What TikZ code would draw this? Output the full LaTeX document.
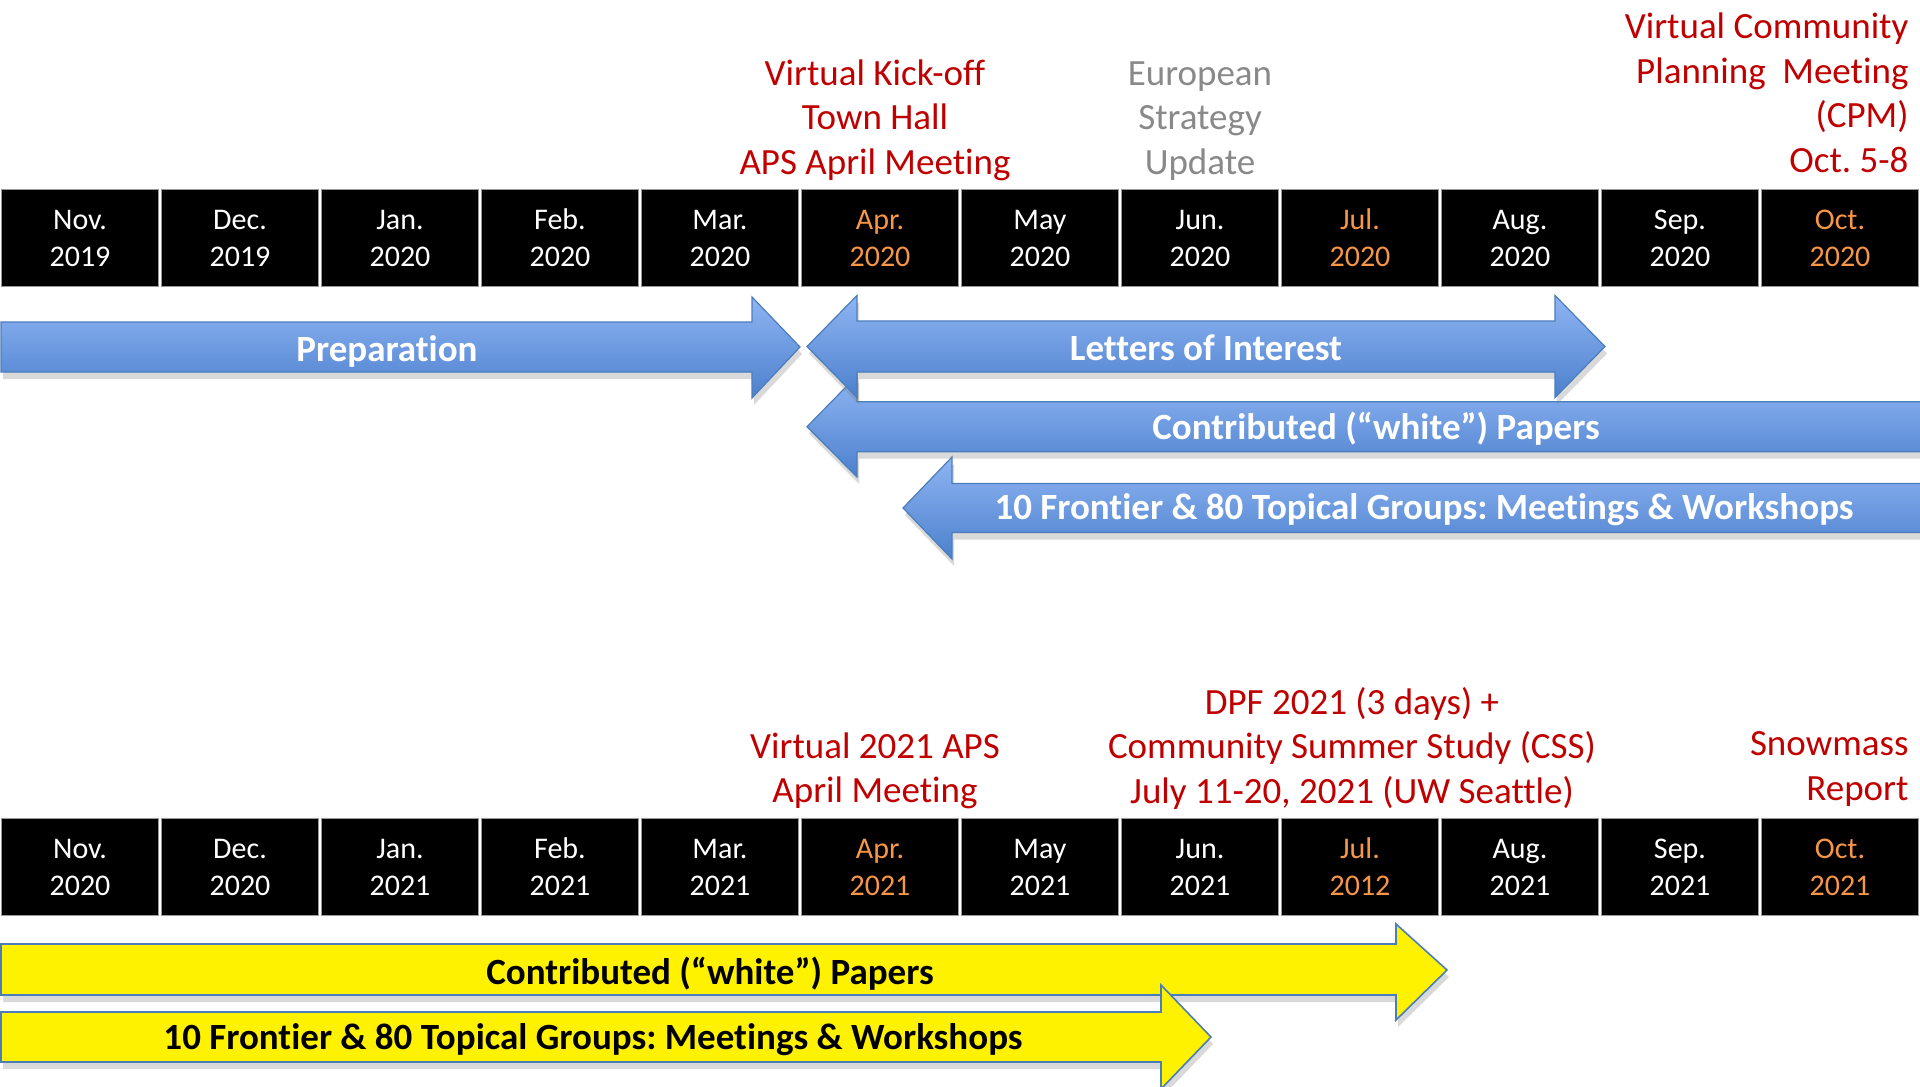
\documentclass[tikz,border=0pt]{standalone}
\usepackage{fontspec}
\setmainfont[Ligatures=NoCommon]{Carlito}
\usetikzlibrary{shadows}
\definecolor{darkred}{RGB}{192,0,0}
\definecolor{midgray}{RGB}{137,137,137}
\definecolor{monthorange}{RGB}{247,150,70}
\definecolor{arrowtop}{RGB}{143,181,243}
\definecolor{arrowbot}{RGB}{76,128,205}
\definecolor{arrowline}{RGB}{74,126,187}

\begin{document}
\frenchspacing
\begin{tikzpicture}[x=1pt,y=-1pt,
   month/.style={fill=black,draw=gray!80,line width=1pt,minimum width=157pt,minimum height=97pt,
      inner sep=0pt,align=center,text=white,font=\fontsize{30}{37}\selectfont},
   hotmonth/.style={month,text=monthorange},
   event/.style={align=center,text=darkred,font=\fontsize{37}{44.5}\selectfont},
   bluearrow/.style={top color=arrowtop,bottom color=arrowbot,draw=arrowline,line width=1.2pt,
      drop shadow={shadow xshift=2pt,shadow yshift=-7pt,opacity=0.3}},
   yellowarrow/.style={fill=yellow,draw=arrowline,line width=1.6pt,
      drop shadow={shadow xshift=2pt,shadow yshift=-7pt,opacity=0.3}},
   barlabel/.style={text=white,font=\bfseries\fontsize{37}{40}\selectfont},
   ]
   \useasboundingbox (0,0) rectangle (1920,1087);
   \clip (0,0) rectangle (1920,1087);

   % first year
   \node[month]    (a1)  at (80,238)   {Nov.\\2019};
   \node[month]    (a2)  at (240,238)  {Dec.\\2019};
   \node[month]    (a3)  at (400,238)  {Jan.\\2020};
   \node[month]    (a4)  at (560,238)  {Feb.\\2020};
   \node[month]    (a5)  at (720,238)  {Mar.\\2020};
   \node[hotmonth] (a6)  at (880,238)  {Apr.\\2020};
   \node[month]    (a7)  at (1040,238) {May\\2020};
   \node[month]    (a8)  at (1200,238) {Jun.\\2020};
   \node[hotmonth] (a9)  at (1360,238) {Jul.\\2020};
   \node[month]    (a10) at (1520,238) {Aug.\\2020};
   \node[month]    (a11) at (1680,238) {Sep.\\2020};
   \node[hotmonth] (a12) at (1840,238) {Oct.\\2020};

   \node[event] (kickoff) at (875,120) {Virtual Kick-off\\Town Hall\\APS April Meeting};
   \node[event,text=midgray] (esu) at (1200,121) {European\\Strategy\\Update};
   \node[event,align=right,anchor=east] (cpm) at (1912,93)
      {Virtual Community\\Planning~~Meeting\\(CPM)\\Oct. 5-8};

   \path[bluearrow] (903,508) -- (952,457) -- (952,483.5) -- (1930,483.5) -- (1930,532.5)
      -- (952,532.5) -- (952,559) -- cycle;
   \path[bluearrow] (807,426.7) -- (857,375.7) -- (857,401.7) -- (1930,401.7) -- (1930,451.7)
      -- (857,451.7) -- (857,477) -- cycle;
   \path[bluearrow] (807,346.5) -- (857,295.5) -- (857,321) -- (1555,321) -- (1555,295.5)
      -- (1605,346.5) -- (1555,397.5) -- (1555,372) -- (857,372) -- (857,397.5) -- cycle;
   \path[bluearrow] (1,322) -- (752,322) -- (752,297) -- (800,347) -- (752,398) -- (752,372)
      -- (1,372) -- cycle;

   \node[barlabel] (prep) at (387,351)  {Preparation};
   \node[barlabel] (loi)  at (1206,348) {Letters of Interest};
   \node[barlabel] (cwp)  at (1376,429) {Contributed (“white”) Papers};
   \node[barlabel] (fgw)  at (1424,510) {10 Frontier \& 80 Topical Groups: Meetings \& Workshops};

   % second year
   \node[month]    (b1)  at (80,867)   {Nov.\\2020};
   \node[month]    (b2)  at (240,867)  {Dec.\\2020};
   \node[month]    (b3)  at (400,867)  {Jan.\\2021};
   \node[month]    (b4)  at (560,867)  {Feb.\\2021};
   \node[month]    (b5)  at (720,867)  {Mar.\\2021};
   \node[hotmonth] (b6)  at (880,867)  {Apr.\\2021};
   \node[month]    (b7)  at (1040,867) {May\\2021};
   \node[month]    (b8)  at (1200,867) {Jun.\\2021};
   \node[hotmonth] (b9)  at (1360,867) {Jul.\\2012};
   \node[month]    (b10) at (1520,867) {Aug.\\2021};
   \node[month]    (b11) at (1680,867) {Sep.\\2021};
   \node[hotmonth] (b12) at (1840,867) {Oct.\\2021};

   \node[event] (aps) at (875,771) {Virtual 2021 APS\\April Meeting};
   \node[event] (dpf) at (1352,748) {DPF 2021 (3 days) +\\Community Summer Study (CSS)\\July 11-20, 2021 (UW Seattle)};
   \node[event,align=right,anchor=east] (report) at (1912,769) {Snowmass\\Report};

   \path[yellowarrow] (1,944) -- (1396,944) -- (1396,924) -- (1447,970) -- (1396,1020)
      -- (1396,995) -- (1,995) -- cycle;
   \path[yellowarrow] (1,1012) -- (1161,1012) -- (1161,985) -- (1211,1037) -- (1161,1089)
      -- (1161,1062) -- (1,1062) -- cycle;

   \node[barlabel,text=black] (cwp2) at (710,974)  {Contributed (“white”) Papers};
   \node[barlabel,text=black] (fgw2) at (593,1040) {10 Frontier \& 80 Topical Groups: Meetings \& Workshops};
\end{tikzpicture}
\end{document}
